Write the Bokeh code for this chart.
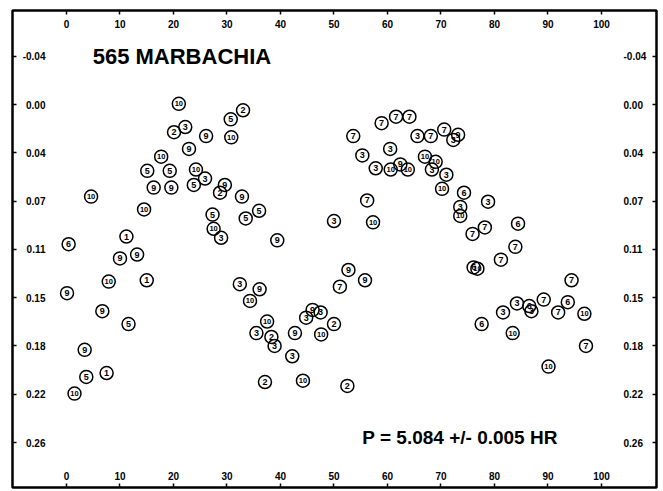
from bokeh.plotting import figure
from bokeh.models import Range1d, LinearAxis, FixedTicker, Label, ColumnDataSource
from bokeh.core.properties import value
from bokeh.embed import file_html
from bokeh.resources import INLINE

# Rotational phase (percent of period)
phase = [21.0, 33.0, 30.7, 20.1, 22.2, 26.1, 30.8, 22.9, 17.7, 15.1,
         19.3, 24.2, 25.9, 23.8, 16.3, 19.6, 29.6, 28.7, 32.8, 4.6,
         14.5, 27.3, 36.0, 33.5, 27.5, 28.9, 39.4, 11.2, 0.4, 10.0,
         13.2, 7.9, 15.0, 0.1, 6.7, 11.6, 3.4, 3.7, 7.5, 1.5,
         32.4, 36.1, 34.3, 37.5, 35.5, 38.3, 38.9, 42.7, 42.2, 37.1,
         44.2, 46.0, 44.8, 47.5, 47.6, 50.0, 52.5, 52.7, 55.8, 51.1,
         50.0, 56.2, 57.3, 53.6, 58.9, 61.6, 64.1, 60.5, 55.3, 57.8,
         60.6, 62.4, 63.8, 65.6, 68.1, 70.6, 73.2, 72.3, 67.0, 69.0,
         68.3, 71.0, 70.2, 74.3, 78.8, 73.6, 73.6, 75.9, 78.2, 84.4,
         83.9, 81.2, 76.1, 76.8, 94.4, 81.6, 84.2, 86.5, 86.9, 89.2,
         93.7, 91.9, 96.8, 77.6, 83.4, 97.1, 90.1]

# Differential magnitude
dmag = [-0.003, 0.002, 0.009, 0.019, 0.015, 0.022, 0.023, 0.032, 0.038, 0.049,
        0.049, 0.048, 0.055, 0.060, 0.062, 0.062, 0.060, 0.066, 0.069, 0.069,
        0.079, 0.083, 0.080, 0.086, 0.094, 0.101, 0.103, 0.100, 0.106, 0.117,
        0.114, 0.135, 0.134, 0.144, 0.158, 0.168, 0.188, 0.209, 0.206, 0.222,
        0.137, 0.141, 0.150, 0.166, 0.175, 0.178, 0.185, 0.175, 0.193, 0.213,
        0.212, 0.157, 0.163, 0.159, 0.176, 0.168, 0.216, 0.126, 0.134, 0.139,
        0.088, 0.072, 0.089, 0.022, 0.012, 0.007, 0.007, 0.032, 0.037, 0.047,
        0.048, 0.044, 0.048, 0.022, 0.022, 0.017, 0.021, 0.025, 0.038, 0.042,
        0.048, 0.052, 0.063, 0.066, 0.073, 0.077, 0.084, 0.098, 0.093, 0.090,
        0.108, 0.118, 0.124, 0.125, 0.134, 0.159, 0.152, 0.154, 0.158, 0.149,
        0.151, 0.159, 0.160, 0.168, 0.175, 0.185, 0.201]

# Observing night of each measurement
night = [10, 2, 5, 2, 3, 9, 10, 9, 10, 5,
         5, 10, 3, 5, 9, 9, 9, 2, 9, 10,
         10, 5, 5, 5, 10, 3, 9, 1, 6, 9,
         9, 10, 1, 9, 9, 5, 9, 5, 1, 10,
         3, 9, 10, 10, 3, 2, 3, 9, 3, 2,
         10, 9, 3, 3, 10, 2, 2, 9, 9, 7,
         3, 7, 10, 7, 7, 7, 7, 3, 3, 3,
         10, 9, 10, 3, 7, 7, 9, 3, 10, 10,
         3, 3, 10, 6, 3, 3, 10, 7, 7, 6,
         7, 7, 6, 10, 7, 3, 3, 6, 3, 7,
         6, 7, 10, 6, 10, 7, 10]

x_ticks = [0, 10, 20, 30, 40, 50, 60, 70, 80, 90, 100]
y_ticks = [-0.04, -0.0025, 0.035, 0.0725, 0.11, 0.1475, 0.185, 0.2225, 0.26]
y_tick_labels = ["-0.04", "0.00", "0.04", "0.07", "0.11", "0.15", "0.18", "0.22", "0.26"]

title_text = "565 MARBACHIA"
period_text = "P = 5.084 +/- 0.005 HR"

src = ColumnDataSource(dict(
    x=phase, y=dmag,
    lab=[str(n) for n in night],
    fs=["7.5px" if n >= 10 else "9px" for n in night],
))

p = figure(width=663, height=491, output_backend="svg", toolbar_location=None,
           x_range=Range1d(-10.09, 110.28), y_range=Range1d(0.2949, -0.0755),
           min_border_left=12, min_border_right=7, min_border_top=10, min_border_bottom=4,
           background_fill_color="white", border_fill_color="white")
p.grid.visible = False
p.outline_line_color = "black"
p.outline_line_width = 2.5

top_ax = LinearAxis()
right_ax = LinearAxis()
p.add_layout(top_ax, "above")
p.add_layout(right_ax, "right")

label_font = "Liberation Sans"
for ax in p.xaxis:
    ax.ticker = FixedTicker(ticks=x_ticks)
for ax in p.yaxis:
    ax.ticker = FixedTicker(ticks=y_ticks)
    ax.major_label_overrides = {t: s for t, s in zip(y_ticks, y_tick_labels)}
for ax in list(p.xaxis) + list(p.yaxis):
    ax.axis_line_color = None
    ax.major_tick_in = 4
    ax.major_tick_out = 0
    ax.major_tick_line_width = 1.5
    ax.minor_tick_line_color = None
    ax.major_label_text_font = label_font
    ax.major_label_text_font_style = "bold"
    ax.major_label_text_font_size = "10px"
    ax.major_label_text_color = "black"

# tick labels sit inside the frame
top_ax.major_label_standoff = -17
p.below[0].major_label_standoff = -16
for ax in p.yaxis:
    ax.major_label_standoff = -33

p.scatter("x", "y", source=src, marker="circle", size=13,
          fill_alpha=0, line_color="black", line_width=1.5)
p.text("x", "y", text="lab", source=src, text_align="center", text_baseline="middle",
       text_font=value(label_font), text_font_style="bold", text_font_size="fs",
       text_color="black")

p.add_layout(Label(x=4.9, y=-0.04, text=title_text, text_font=label_font,
                   text_font_style="bold", text_font_size="22px",
                   text_baseline="middle", text_color="black"))
p.add_layout(Label(x=55.3, y=0.256, text=period_text, text_font=label_font,
                   text_font_style="bold", text_font_size="19px",
                   text_baseline="middle", text_color="black"))

open("out.html", "w").write(file_html(p, INLINE))
